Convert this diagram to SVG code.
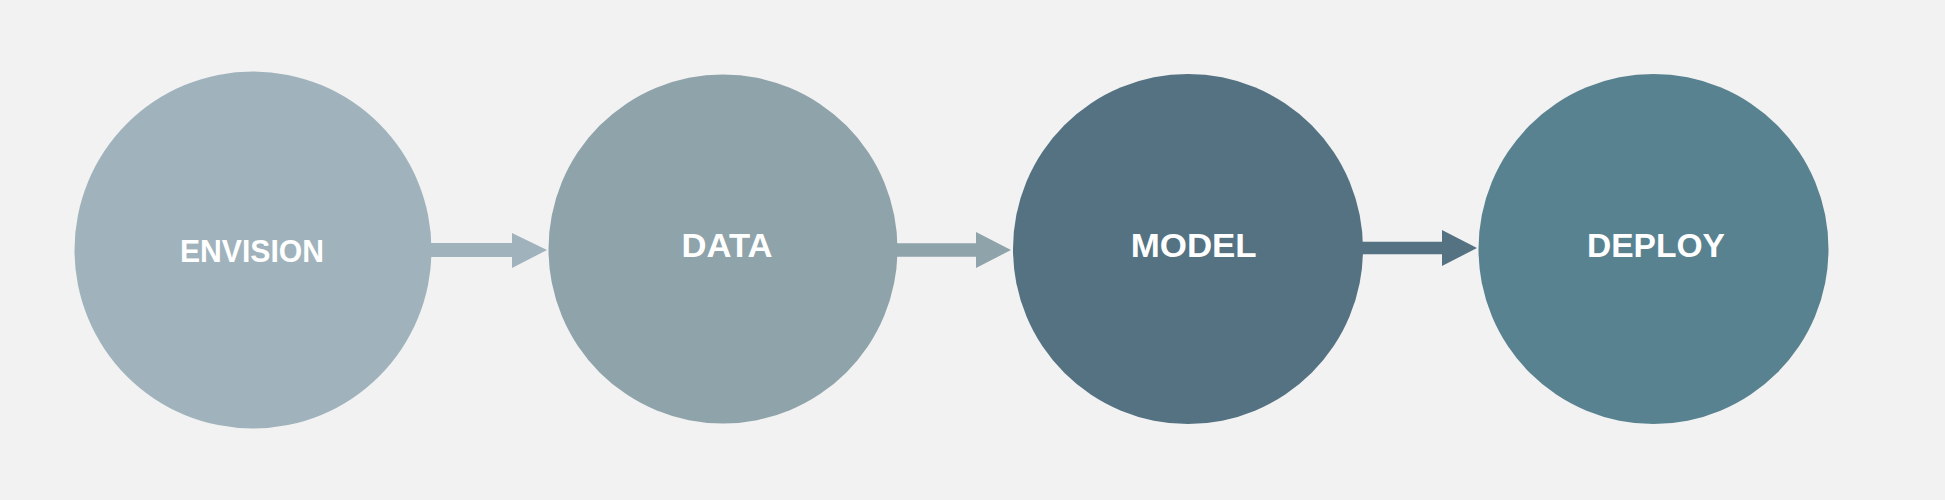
<svg xmlns="http://www.w3.org/2000/svg" width="1945" height="500" viewBox="0 0 1945 500">
  <style>
    .label { font-family: "Liberation Sans", Arial, sans-serif; font-weight: bold; fill: #FFFFFF; text-anchor: middle; }
  </style>
  <rect x="0" y="0" width="1945" height="500" fill="#F2F2F2"/>
  <g id="connectors">
    <path d="M429 243 H512 V233 L547 250 L512 268 V257 H429 Z" fill="#A0B3BC"/>
    <path d="M895 243.3 H976 V232 L1011 250 L976 268 V256.7 H895 Z" fill="#8FA3AA"/>
    <path d="M1361 241.7 H1442 V230 L1477 248 L1442 266 V254.3 H1361 Z" fill="#547282"/>
  </g>
  <g id="node-envision">
    <circle cx="253" cy="250" r="178.5" fill="#A0B3BC"/>
    <text class="label" x="252" y="262" font-size="31" textLength="144" lengthAdjust="spacingAndGlyphs">ENVISION</text>
  </g>
  <g id="node-data">
    <circle cx="723" cy="249" r="174.5" fill="#8FA3AA"/>
    <text class="label" x="727" y="257.3" font-size="33.5" textLength="91" lengthAdjust="spacingAndGlyphs">DATA</text>
  </g>
  <g id="node-model">
    <circle cx="1188" cy="249" r="175" fill="#547282"/>
    <text class="label" x="1193.7" y="257.3" font-size="33.5" textLength="126" lengthAdjust="spacingAndGlyphs">MODEL</text>
  </g>
  <g id="node-deploy">
    <circle cx="1653.5" cy="249" r="175" fill="#598291"/>
    <text class="label" x="1656" y="257.3" font-size="33.5" textLength="138" lengthAdjust="spacingAndGlyphs">DEPLOY</text>
  </g>
</svg>
